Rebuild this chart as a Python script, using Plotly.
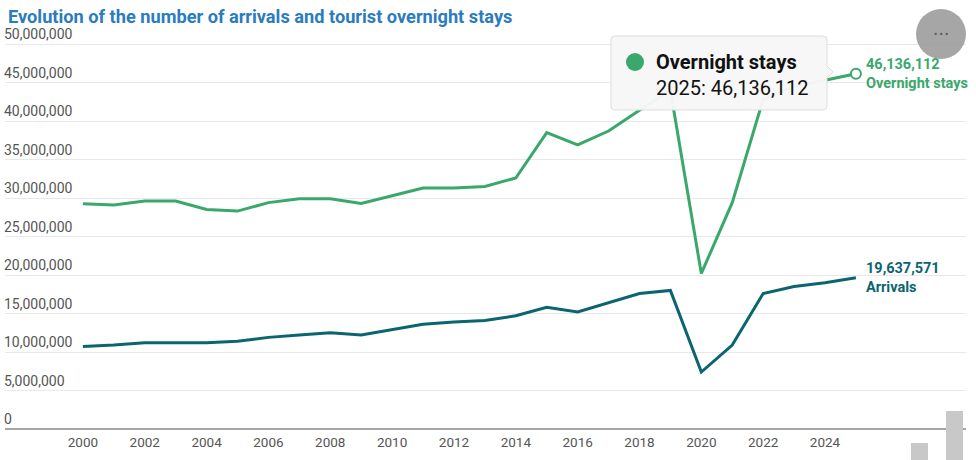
import re
import plotly.graph_objects as go

years = list(range(2000, 2026))
overnight_stays = [29.26e6, 29.1e6, 29.6e6, 29.6e6, 28.5e6, 28.3e6, 29.4e6, 29.9e6, 29.9e6, 29.3e6,
                   30.3e6, 31.3e6, 31.3e6, 31.5e6, 32.6e6, 38.5e6, 36.9e6, 38.7e6, 41.4e6, 44.0e6,
                   20.2e6, 29.4e6, 42.8e6, 44.5e6, 45.3e6, 46136112]
arrivals = [10.7e6, 10.9e6, 11.2e6, 11.2e6, 11.2e6, 11.4e6, 11.9e6, 12.2e6, 12.5e6, 12.2e6,
            12.9e6, 13.6e6, 13.9e6, 14.1e6, 14.7e6, 15.8e6, 15.2e6, 16.4e6, 17.6e6, 18.0e6,
            7.4e6, 10.9e6, 17.6e6, 18.5e6, 19.0e6, 19637571]
x_ticks = list(range(2000, 2025, 2))
y_ticks = list(range(0, 50000001, 5000000))

GREEN = "#3aa86b"
TEAL = "#0b6570"
FONT = "Roboto"

W, H = 976, 460
L, R, T, B = 5, 10, 18, 31
pw, ph = W - L - R, H - T - B
Y_TOP = 50000000 * ph / 385.0  # 50M gridline sits at y=44px

def px(x):
    return (x - L) / pw

def py(y):
    return (H - B - y) / ph

fig = go.Figure()
fig.add_trace(go.Scatter(x=years, y=overnight_stays, mode="lines", name="Overnight stays",
                         line=dict(color=GREEN, width=3), hoverinfo="skip"))
fig.add_trace(go.Scatter(x=years, y=arrivals, mode="lines", name="Arrivals",
                         line=dict(color=TEAL, width=3), hoverinfo="skip"))
fig.add_trace(go.Scatter(x=[years[-1]], y=[overnight_stays[-1]], mode="markers",
                         marker=dict(size=10, color="white", line=dict(color=GREEN, width=2)),
                         hoverinfo="skip", showlegend=False))

annotations = []
annotations.append(dict(x=years[-1], y=overnight_stays[-1], xref="x", yref="y",
                        text=f"<b>{overnight_stays[-1]:,.0f}</b><br><b>Overnight stays</b>",
                        showarrow=False, xanchor="left", yanchor="middle", xshift=8, yshift=0,
                        align="left", font=dict(family=FONT, size=14.5, color=GREEN)))
annotations.append(dict(x=years[-1], y=arrivals[-1], xref="x", yref="y",
                        text=f"<b>{arrivals[-1]:,.0f}</b><br><b>Arrivals</b>",
                        showarrow=False, xanchor="left", yanchor="middle", xshift=8, yshift=0,
                        align="left", font=dict(family=FONT, size=14.5, color=TEAL)))
annotations.append(dict(x=px(6), y=py(17), xref="paper", yref="paper",
                        text="<b>Evolution of the number of arrivals and tourist overnight stays</b>",
                        showarrow=False, xanchor="left", yanchor="middle",
                        font=dict(family=FONT, size=18.2, color="#2a7bbf")))
annotations.append(dict(x=px(654), y=py(62), xref="paper", yref="paper",
                        text="<b>Overnight stays</b>", showarrow=False, xanchor="left", yanchor="middle",
                        font=dict(family=FONT, size=20, color="#111111")))
annotations.append(dict(x=px(654), y=py(88), xref="paper", yref="paper",
                        text=f"{years[-1]}: {overnight_stays[-1]:,.0f}", showarrow=False,
                        xanchor="left", yanchor="middle",
                        font=dict(family=FONT, size=20, color="#111111")))
annotations.append(dict(x=px(941), y=py(34), xref="paper", yref="paper",
                        text="<b>• • •</b>", showarrow=False, xanchor="center", yanchor="middle",
                        font=dict(family=FONT, size=9, color="#5a5a5a")))

shapes = []
x0, x1, y0, y1, r = 611, 827, 36, 110, 4
path = (f"M {x0+r},{y0} L {x1-r},{y0} Q {x1},{y0} {x1},{y0+r} L {x1},{66} L {x1+6},{72} L {x1},{78} "
        f"L {x1},{y1-r} Q {x1},{y1} {x1-r},{y1} L {x0+r},{y1} Q {x0},{y1} {x0},{y1-r} "
        f"L {x0},{y0+r} Q {x0},{y0} {x0+r},{y0} Z")

def conv(m):
    a, b = float(m.group(1)), float(m.group(2))
    return f"{px(a):.5f},{py(b):.5f}"

path_paper = re.sub(r"(-?\d+(?:\.\d+)?),(-?\d+(?:\.\d+)?)", conv, path)
shapes.append(dict(type="path", path=path_paper, xref="paper", yref="paper",
                   fillcolor="rgba(247,247,247,0.97)", line=dict(color="#dddddd", width=1), layer="above"))
shapes.append(dict(type="circle", xref="paper", yref="paper", xsizemode="pixel", ysizemode="pixel",
                   xanchor=px(635), yanchor=py(62), x0=-9, x1=9, y0=-9, y1=9,
                   fillcolor=GREEN, line=dict(width=0), layer="above"))
shapes.append(dict(type="circle", xref="paper", yref="paper", xsizemode="pixel", ysizemode="pixel",
                   xanchor=px(941), yanchor=py(34), x0=-25, x1=25, y0=-25, y1=25,
                   fillcolor="rgba(150,150,150,0.85)", line=dict(width=0), layer="above"))
shapes.append(dict(type="rect", xref="paper", yref="paper", x0=px(946), x1=px(963), y0=py(460), y1=py(411),
                   fillcolor="#c8c8c8", line=dict(width=0), layer="above"))
shapes.append(dict(type="rect", xref="paper", yref="paper", x0=px(911), x1=px(928), y0=py(460), y1=py(443),
                   fillcolor="#c8c8c8", line=dict(width=0), layer="above"))

fig.update_layout(
    width=W, height=H, margin=dict(l=L, r=R, t=T, b=B),
    paper_bgcolor="white", plot_bgcolor="white", showlegend=False,
    font=dict(family=FONT, size=13.5, color="#555555"),
    annotations=annotations, shapes=shapes,
    xaxis=dict(range=[1997.48, 2028.56], tickvals=x_ticks, ticks="", showgrid=False,
               zeroline=False, showline=False, tickfont=dict(family=FONT, size=13.5, color="#555555"),
               ticklabelstandoff=3, fixedrange=True),
    yaxis=dict(range=[0, Y_TOP], tickvals=y_ticks, ticktext=[f"{v:,}" for v in y_ticks],
               ticklabelposition="inside top", ticklabelstandoff=-4, showgrid=True,
               gridcolor="#e8e8e8", gridwidth=1,
               zeroline=True, zerolinecolor="#a6a6a6", zerolinewidth=2, showline=False,
               tickfont=dict(family=FONT, size=14, color="#555555"), fixedrange=True),
)

fig.write_html("out.html", config={"displayModeBar": False},
               post_script="document.body.style.margin='0';document.body.style.overflow='hidden';")
